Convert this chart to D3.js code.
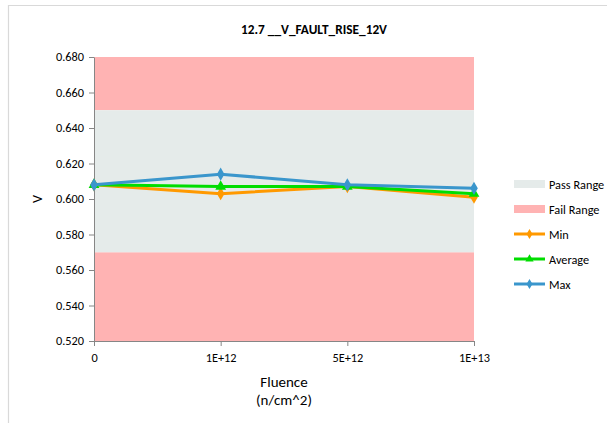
<!DOCTYPE html>
<html><head><meta charset="utf-8">
<script src="https://cdn.jsdelivr.net/npm/d3@7/dist/d3.min.js"></script>
<style>body{margin:0;background:#fff;}svg{display:block;font-family:Carlito,Calibri,Lato,"Liberation Sans",sans-serif;}</style>
</head><body><svg id="c" width="607" height="423"></svg>
<script>
const categories = ["0", "1E+12", "5E+12", "1E+13"];
const minVals = [0.608, 0.603, 0.607, 0.601];
const avgVals = [0.608, 0.607, 0.607, 0.603];
const maxVals = [0.608, 0.614, 0.608, 0.606];
const yTicks = [0.52, 0.54, 0.56, 0.58, 0.60, 0.62, 0.64, 0.66, 0.68];
const passRange = [0.57, 0.65];
const failRanges = [[0.52, 0.57], [0.65, 0.68]];
const title = "12.7 __V_FAULT_RISE_12V";

const svg = d3.select("#c");
const L = 94, R = 474, T = 57, B = 341;
const x = d3.scalePoint().domain(categories).range([L, R]);
const y = d3.scaleLinear().domain([0.52, 0.68]).range([B, T]);

// frame
svg.append("path").attr("d", "M8.5,423 L8.5,5.5 L607,5.5").attr("fill","none").attr("stroke","#d9d9d9").attr("stroke-width",1.2);

const passColor = "#e5ebea", failColor = "#ffb3b3";
failRanges.forEach(r => svg.append("rect").attr("x", L).attr("width", R-L)
  .attr("y", y(r[1])).attr("height", y(r[0]) - y(r[1])).attr("fill", failColor));
svg.append("rect").attr("x", L).attr("width", R-L).attr("y", y(passRange[1]))
  .attr("height", y(passRange[0]) - y(passRange[1])).attr("fill", passColor);

// axes
const yAxis = d3.axisLeft(y).tickValues(yTicks).tickFormat(d3.format(".3f")).tickSize(5).tickSizeOuter(0);
const gy = svg.append("g").attr("transform", `translate(${L},0)`).call(yAxis);
const xAxis = d3.axisBottom(x).tickSize(5).tickSizeOuter(0);
const gx = svg.append("g").attr("transform", `translate(0,${B})`).call(xAxis);
[gy, gx].forEach(g => {
  g.selectAll("path,line").attr("stroke", "#868686");
  g.selectAll("text").attr("font-size", 12.3).attr("fill", "#000").attr("font-family","Carlito,Calibri,Lato,'Liberation Sans',sans-serif");
});
gy.selectAll("text").attr("x", -10);
gx.selectAll("text").attr("dy", "1.05em");

svg.append("text").attr("x", 314).attr("y", 34).attr("text-anchor","middle")
  .attr("font-weight","bold").attr("font-size", 13.3).text(title);
svg.append("text").attr("transform","translate(42,199) rotate(-90)").attr("text-anchor","middle")
  .attr("font-size", 14).text("V");
svg.append("text").attr("x", 284).attr("y", 387).attr("text-anchor","middle").attr("font-size", 15).text("Fluence");
svg.append("text").attr("x", 284).attr("y", 405).attr("text-anchor","middle").attr("font-size", 15).text("(n/cm^2)");

const series = [
  {name:"Min", vals:minVals, color:"#ff9900", sym:d3.symbolDiamond},
  {name:"Average", vals:avgVals, color:"#00dd00", sym:d3.symbolTriangle},
  {name:"Max", vals:maxVals, color:"#3a96cc", sym:d3.symbolDiamond}
];
const line = d3.line().x((d,i)=>x(categories[i])).y(d=>y(d));
series.forEach(s => {
  svg.append("path").datum(s.vals).attr("d", line).attr("fill","none")
    .attr("stroke", s.color).attr("stroke-width", 3).attr("stroke-linejoin","round");
  svg.selectAll(null).data(s.vals).enter().append("path")
    .attr("d", d3.symbol().type(s.sym).size(50))
    .attr("transform", (d,i)=>`translate(${x(categories[i])},${y(d)})`)
    .attr("fill", s.color);
});

// legend
const lx = 514, ly = [184, 209, 234, 259, 284];
const legItems = [
  {name:"Pass Range", type:"rect", color:passColor},
  {name:"Fail Range", type:"rect", color:failColor},
  ...series.map(s=>({name:s.name, type:"line", color:s.color, sym:s.sym}))
];
legItems.forEach((it, i) => {
  const cy = ly[i];
  if (it.type === "rect") {
    svg.append("rect").attr("x", lx).attr("y", cy-4).attr("width", 31).attr("height", 8).attr("fill", it.color);
  } else {
    svg.append("line").attr("x1", lx).attr("x2", lx+31).attr("y1", cy).attr("y2", cy)
      .attr("stroke", it.color).attr("stroke-width", 3);
    svg.append("path").attr("d", d3.symbol().type(it.sym).size(30)).attr("transform", `translate(${lx+15.5},${cy})`).attr("fill", it.color);
  }
  svg.append("text").attr("x", lx+35).attr("y", cy+4.5).attr("font-size", 12.3).text(it.name);
});
</script></body></html>
